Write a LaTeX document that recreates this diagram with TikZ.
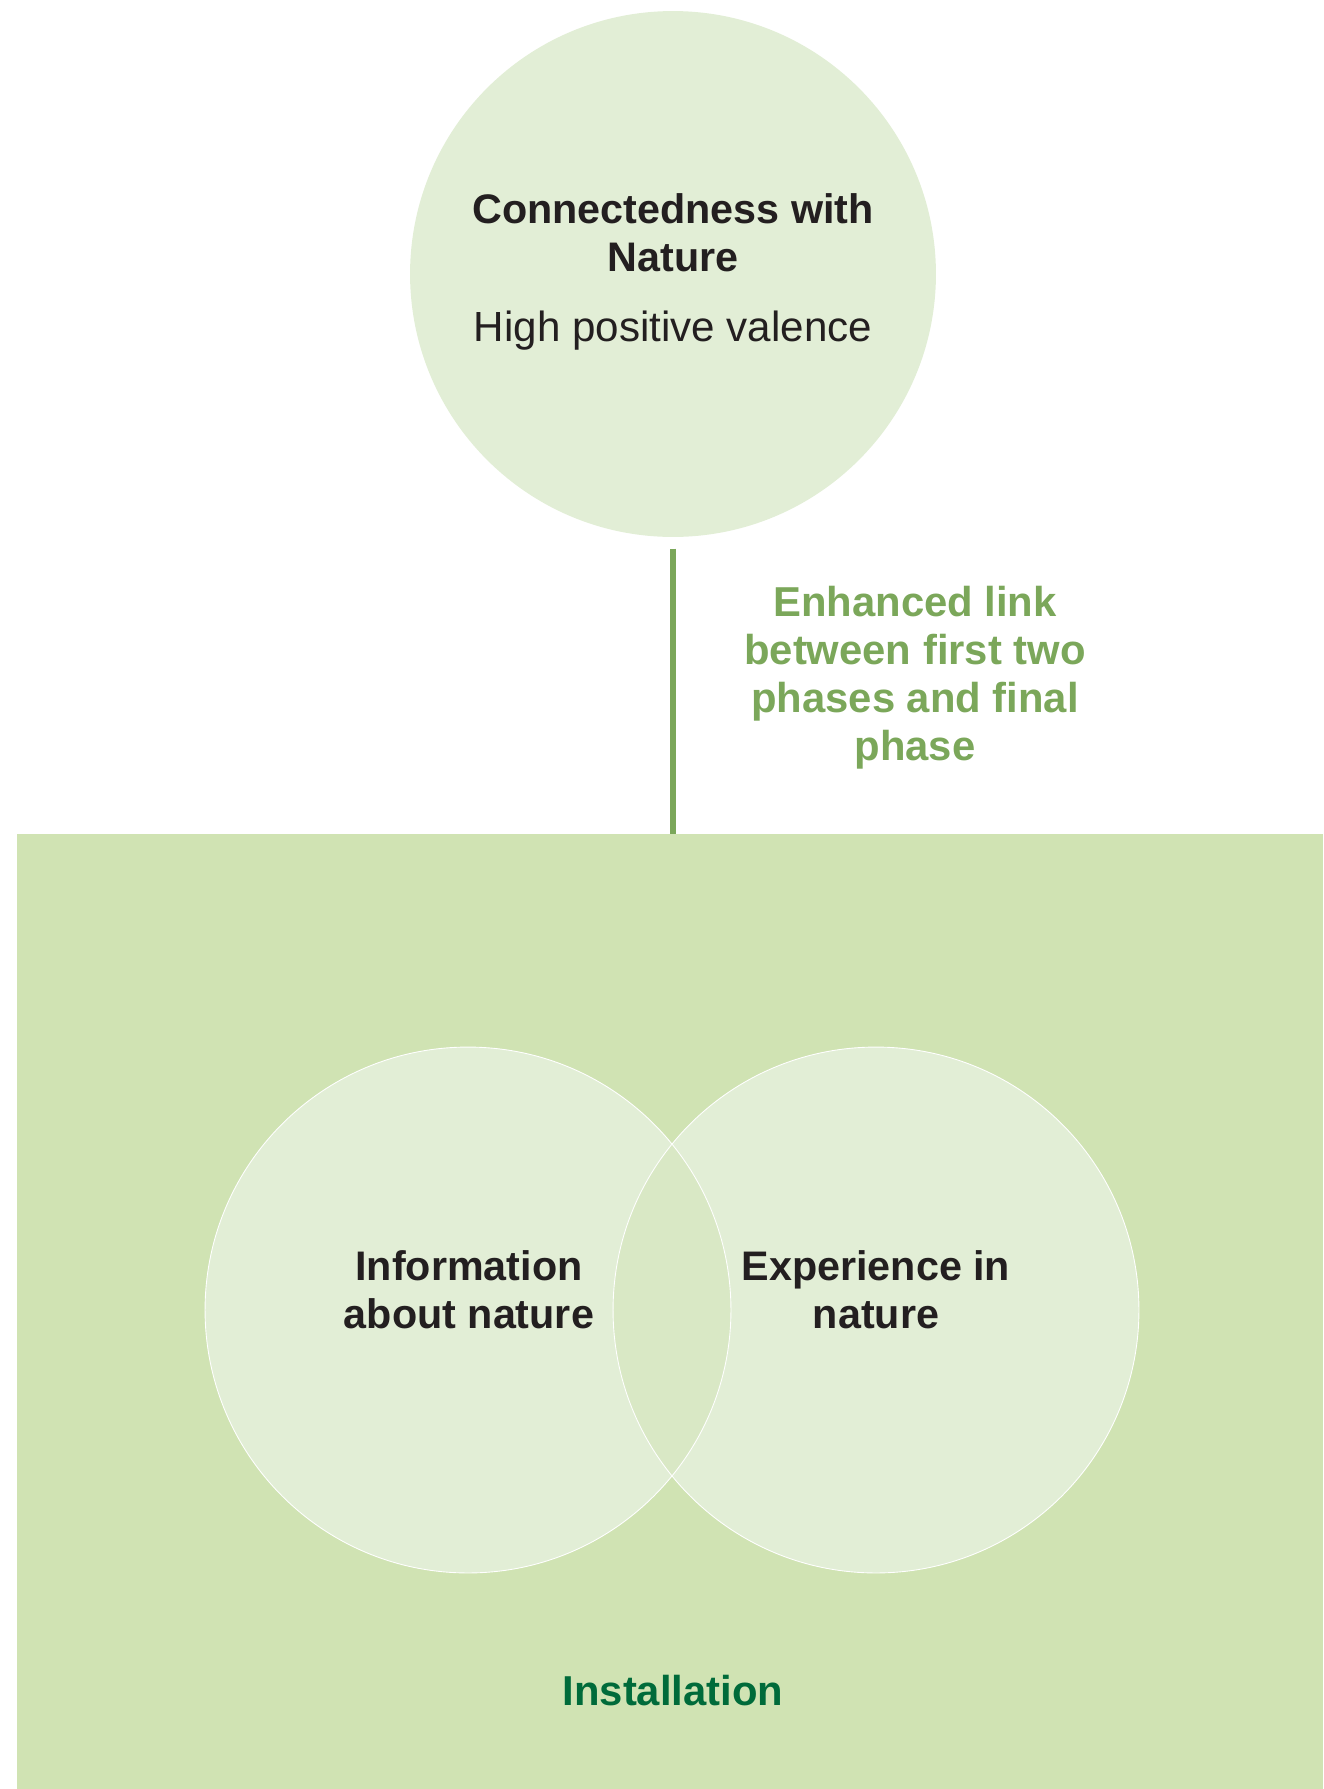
\documentclass[tikz,border=0pt]{standalone}
\usepackage{fontspec}
\setmainfont{Liberation Sans}
\usepackage{xcolor}
\usepackage{tikz}
\usetikzlibrary{positioning}
\definecolor{paleleaf}{HTML}{E2EED6}
\definecolor{meadow}{HTML}{D0E3B3}
\definecolor{overlapleaf}{HTML}{D9E8C5}
\definecolor{linkgreen}{HTML}{7BA75A}
\definecolor{forest}{HTML}{006B3A}
\definecolor{ink}{HTML}{231F20}
\tikzset{
  bubble/.style={circle, fill=paleleaf, minimum size=10.52cm, inner sep=0pt},
  rim/.style={draw=white, line width=0.5pt},
  panel/.style={rectangle, fill=meadow, minimum width=26.12cm, minimum height=19.1cm, inner sep=0pt},
  heading/.style={align=center, text=ink, font=\fontsize{23.5}{27.3}\selectfont\bfseries},
  subline/.style={align=center, text=ink, font=\fontsize{24}{27.3}\selectfont},
  linklabel/.style={align=center, text=linkgreen, font=\fontsize{23.8}{27.3}\selectfont\bfseries},
  linkline/.style={draw=linkgreen, line width=3.4pt}
}
\begin{document}
\begin{tikzpicture}[x=0.02cm,y=-0.02cm]
  \useasboundingbox (0,0) rectangle (1323,1789);
  % top phase
  \node[bubble] (topc) at (673,274) {};
  \node[heading] (topname) at (673,233) {Connectedness with\\Nature};
  \node[subline, below=15pt of topname] (valence) {High positive valence};
  % installation panel
  \node[panel] (panel) at (670,1311.5) {};
  \draw[linkline, shorten <=6.5pt] (topc.south) -- (topc.south |- panel.north);
  \node[linklabel] (link) at (915,678) {Enhanced link\\between first two\\phases and final\\phase};
  % two overlapping phases
  \node[bubble] (infoc) at (468,1310) {};
  \node[bubble] (expc) at (876,1310) {};
  \begin{scope}
    \clip (infoc.center) circle[radius=5.26cm];
    \fill[overlapleaf] (expc.center) circle[radius=5.26cm];
  \end{scope}
  \draw[rim] (infoc.center) circle[radius=5.26cm];
  \draw[rim] (expc.center) circle[radius=5.26cm];
  \node[heading] (info) at (469,1290) {Information\\about nature};
  \node[heading] (exp) at (876,1290) {Experience in\\nature};
  \node[linklabel, text=forest] (inst) at (673,1691) {Installation};
\end{tikzpicture}
\end{document}
